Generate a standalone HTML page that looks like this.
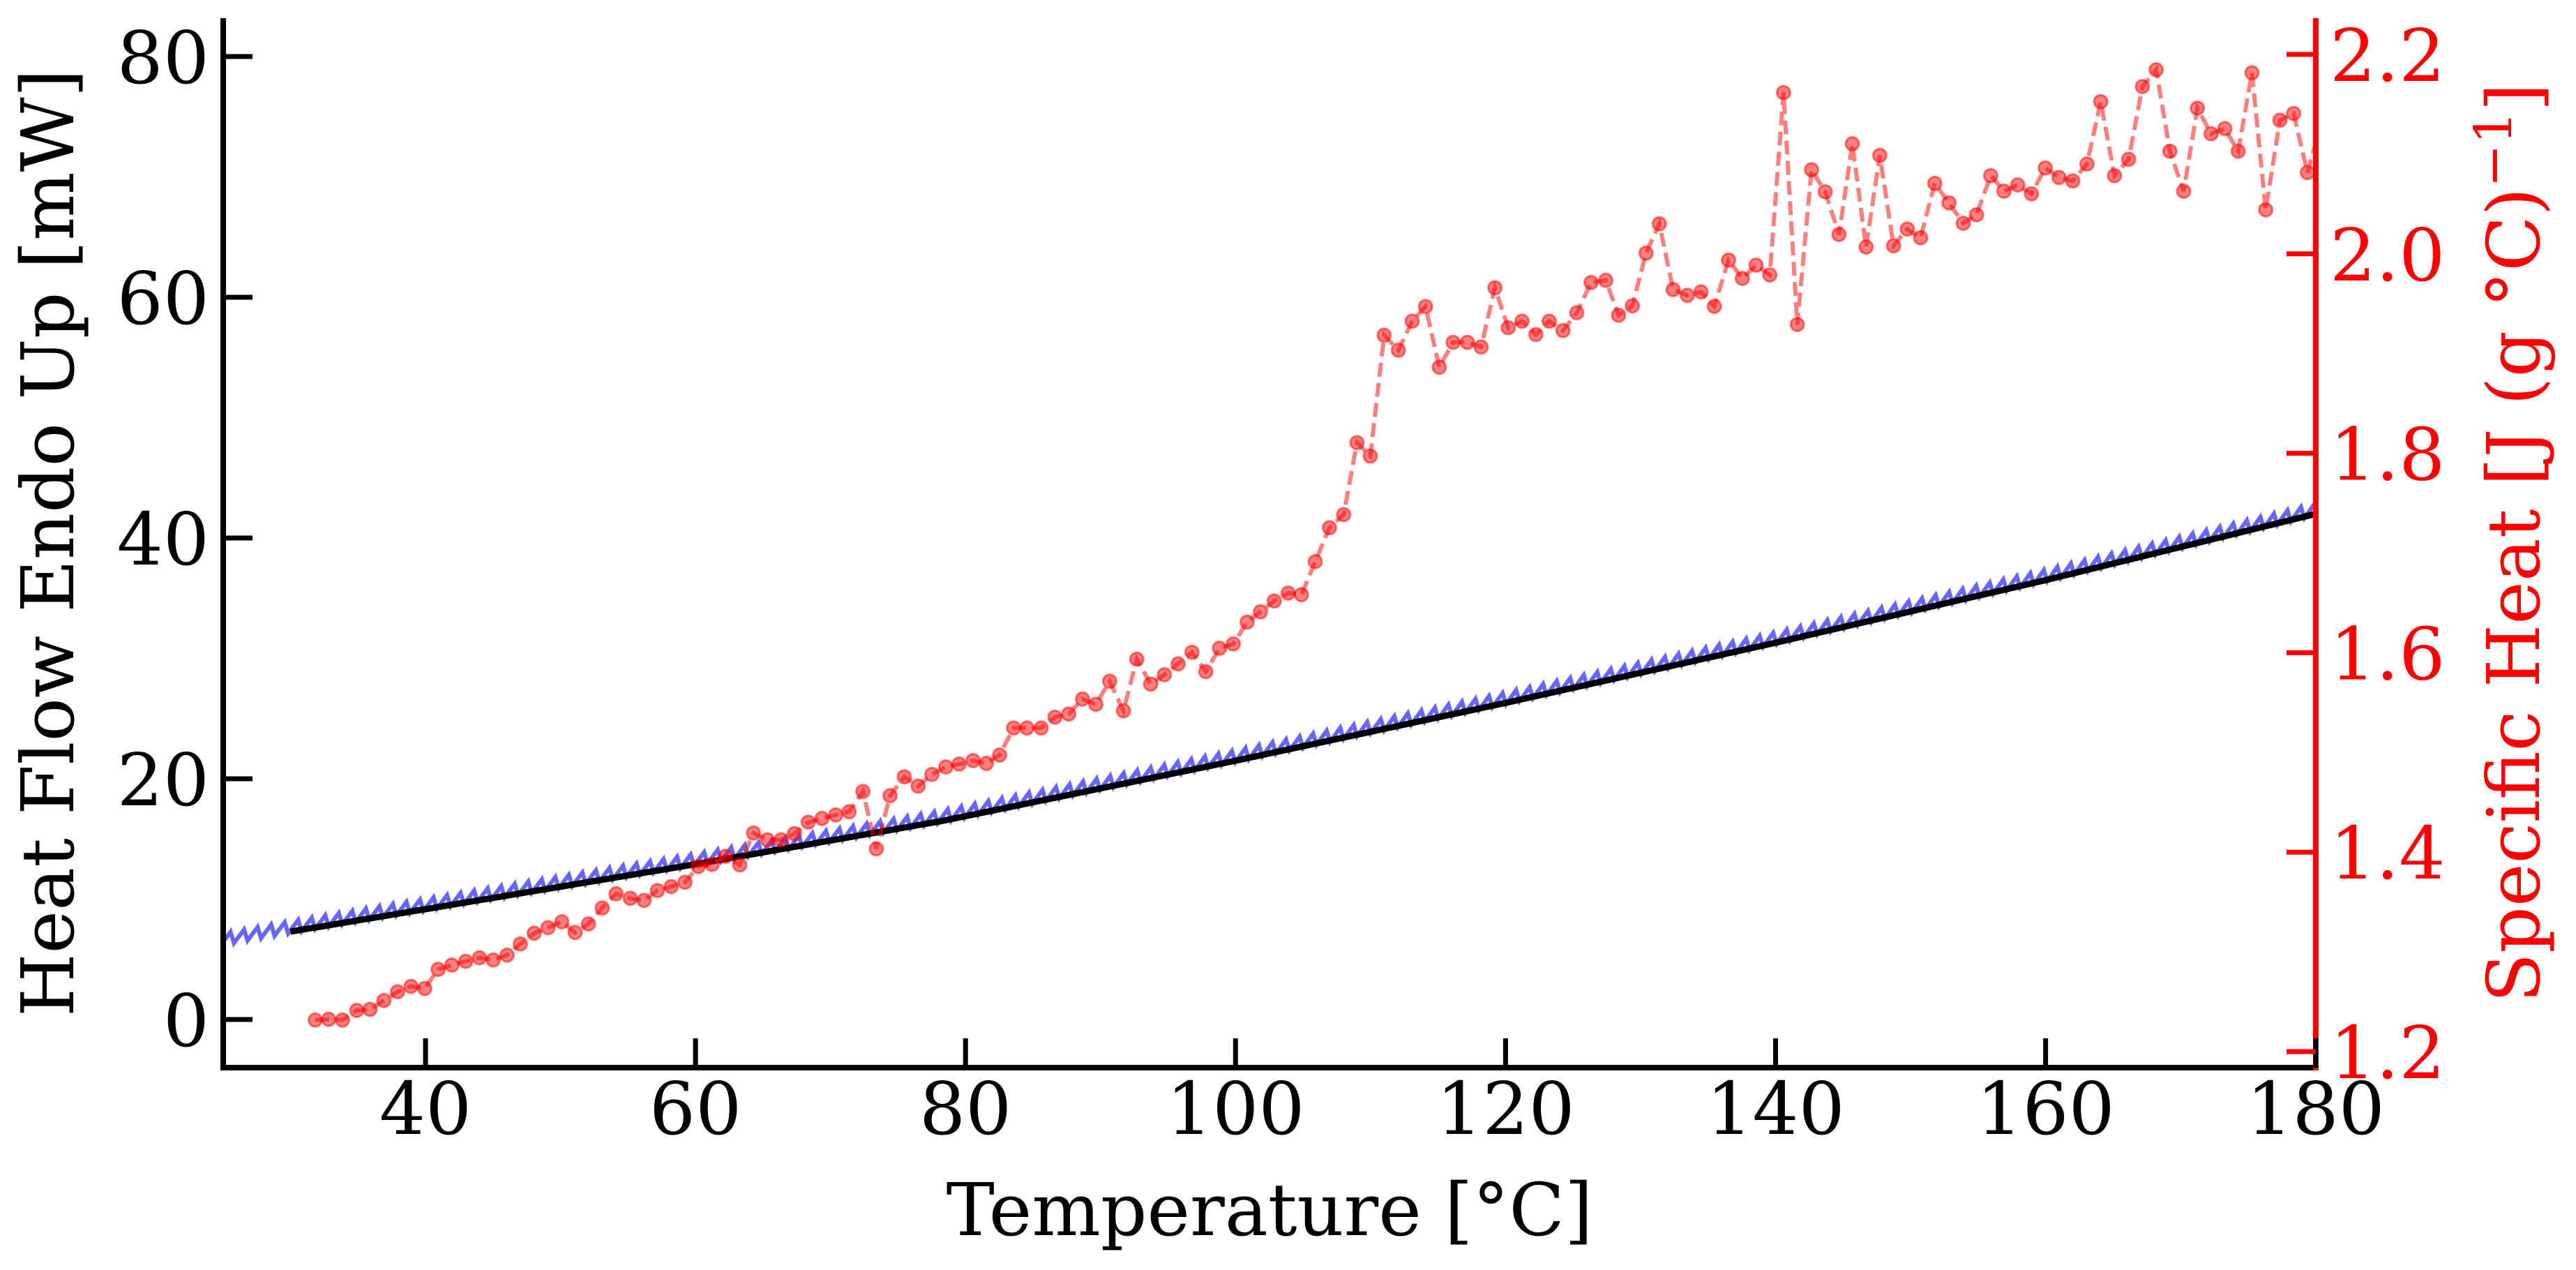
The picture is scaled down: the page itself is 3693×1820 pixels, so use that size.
<!DOCTYPE html>
<html><head><meta charset="utf-8">
<style>
html,body{margin:0;padding:0;background:#fff;}
svg{display:block;}
text{font-family:"DejaVu Serif","Liberation Serif",serif;}
</style></head>
<body>
<svg id="s" xmlns="http://www.w3.org/2000/svg" width="3693" height="1820" viewBox="0 0 3693 1820">
<defs><clipPath id="c"><rect x="320" y="20" width="3000" height="1510"/></clipPath></defs>
<g id="plot" clip-path="url(#c)"></g>
<line x1="320" y1="26" x2="320" y2="1534" stroke="#000" stroke-width="8"/>
<line x1="316" y1="1530" x2="3320" y2="1530" stroke="#000" stroke-width="8"/>
<line x1="3320" y1="26" x2="3320" y2="1534" stroke="#f00" stroke-width="8"/>
<g id="ticks"></g>
<text x="1820" y="1770" font-size="104" text-anchor="middle">Temperature [°C]</text>
<text transform="translate(105,778) rotate(-90)" font-size="104" text-anchor="middle">Heat Flow Endo Up [mW]</text>
<text transform="translate(3640,778) rotate(-90)" font-size="104" text-anchor="middle" fill="#f00">Specific Heat [J (g °C)<tspan font-size="74" dy="-40">−1</tspan><tspan dy="40">]</tspan></text>
</svg>
<script>
var NS="http://www.w3.org/2000/svg";
function X(T){return 610+(T-40)*19.355;}
function YL(v){return 1461-v*17.25;}
function YR(v){return 1507-(v-1.2)*1429;}
var plot=document.getElementById('plot'),ticks=document.getElementById('ticks');
function el(p,tag,a,txt){var e=document.createElementNS(NS,tag);for(var k in a)e.setAttribute(k,a[k]);if(txt!=null)e.textContent=txt;p.appendChild(e);return e;}
var tab=[[25,6.3],[30,7.3],[60,12.9],[78.3,16.5],[100,21.5],[120,26.3],[140,31.3],[160,36.5],[180,42]];
function bv(T){for(var i=0;i<tab.length-1;i++){if(T<=tab[i+1][0]){var a=tab[i],b=tab[i+1];return a[1]+(b[1]-a[1])*(T-a[0])/(b[0]-a[0]);}}return 42;}
var pts=[];var per=19.4;
for(var x=316;x<=3330;x+=per){var T=40+(x-610)/19.355;pts.push(x+','+(YL(bv(T))+2));var x2=x+per*0.75;var T2=40+(x2-610)/19.355;pts.push(x2+','+(YL(bv(T2))-15));}
el(plot,'polyline',{points:pts.join(' '),fill:'none',stroke:'#6666ff','stroke-width':6,'stroke-linejoin':'miter'});
pts=[];for(var T=30;T<=180.01;T+=0.5){pts.push(X(T)+','+YL(bv(T)));}
el(plot,'polyline',{points:pts.join(' '),fill:'none',stroke:'#000','stroke-width':9});
var red=[];
var z4=[[160,1468],[190,1465],[221,1468],[253,1432],[283,1428],[314,1395],[345,1362],[375,1342],[406,1350],[436,1278],[467,1262],[498,1248],[529,1235],[560,1243],[591,1225],[621,1183],[652,1143],[683,1122],[714,1100],[744,1140],[774,1108],[805,1048],[836,995],[868,1012],[899,1020],[929,983],[960,968],[991,952],[1021,893],[1052,885],[1082,855],[1114,887],[1145,768],[1176,793],[1207,793],[1237,770],[1268,727],[1299,713],[1330,700],[1360,688],[1391,612],[1421,827],[1452,628],[1484,557],[1515,592],[1546,548]];
z4.forEach(function(p){red.push([350+p[0]/1.568,900+p[1]/2.613]);});
red.push([1356,1099],[1375,1095],[1395,1090],[1414,1094],[1433,1082]);
var z5=[[240,1553],[270,1553],[302,1553],[333,1518],[364,1508],[395,1460],[425,1477],[456,1403],[487,1498],[517,1332],[548,1412],[579,1382],[610,1347],[641,1310],[672,1372],[703,1297],[734,1283],[765,1213],[795,1180],[826,1145],[857,1120],[887,1125],[918,1019],[950,910],[982,868],[1012,637],[1042,680],[1073,292],[1105,340],[1136,247],[1166,200],[1197,395],[1228,315],[1260,315],[1291,330],[1322,140],[1352,268],[1383,247],[1414,290],[1444,247],[1475,277],[1506,220],[1538,123]];
z5.forEach(function(p){red.push([1300+p[0]/1.568,350+p[1]/2.24]);});
var z6=[[3,1055],[31,1205],[61,1165],[91,938],[120,812],[150,1095],[181,1120],[211,1105],[240,1167],[271,968],[301,1047],[331,990],[361,1032],[391,248],[421,1245],[452,580],[482,675],[512,858],[541,468],[571,912],[601,518],[631,907],[661,835],[690,872],[721,638],[752,722],[783,810],[812,773],[843,605],[872,672],[902,645],[932,683],[962,572],[992,613],[1022,628],[1053,555],[1083,287],[1113,605],[1144,535],[1174,222],[1204,150],[1234,500],[1264,672],[1294,315],[1324,425],[1354,403],[1383,500],[1413,163],[1443,752],[1474,367],[1504,338],[1534,592]];
z6.forEach(function(p){red.push([2300+p[0]/1.522,50+p[1]/3.0]);});
var lp=red.map(function(p){return p[0].toFixed(1)+','+p[1].toFixed(1);});
lp.push('3335,150');
el(plot,'polyline',{points:lp.join(' '),fill:'none',stroke:'#ff0000','stroke-opacity':0.5,'stroke-width':6,'stroke-dasharray':'20,9'});
red.forEach(function(p){el(plot,'circle',{cx:p[0].toFixed(1),cy:p[1].toFixed(1),r:9.5,fill:'#ff0000','fill-opacity':0.5,stroke:'#ff0000','stroke-opacity':0.5,'stroke-width':3});});
for(var T=40;T<=180;T+=20){var x=X(T);el(ticks,'line',{x1:x,y1:1530,x2:x,y2:1488,stroke:'#000','stroke-width':7});el(ticks,'text',{x:x,y:1625,'font-size':104,'text-anchor':'middle'},String(T));}
for(var v=0;v<=80;v+=20){var y=YL(v);el(ticks,'line',{x1:320,y1:y,x2:362,y2:y,stroke:'#000','stroke-width':7});el(ticks,'text',{x:300,y:y+38,'font-size':104,'text-anchor':'end'},String(v));}
[1.2,1.4,1.6,1.8,2.0,2.2].forEach(function(v){var y=YR(v);el(ticks,'line',{x1:3320,y1:y,x2:3278,y2:y,stroke:'#f00','stroke-width':7});el(ticks,'text',{x:3340,y:y+38,'font-size':104,fill:'#f00'},v.toFixed(1));});
</script>
</body></html>
